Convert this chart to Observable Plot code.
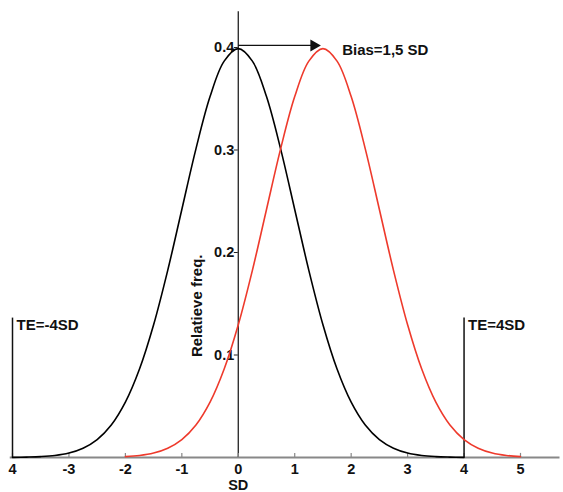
<!DOCTYPE html>
<html><head><meta charset="utf-8">
<script src="https://cdn.jsdelivr.net/npm/d3@7"></script>
<script src="https://cdn.jsdelivr.net/npm/@observablehq/plot@0.6"></script>
<style>
html,body{margin:0;padding:0;background:#fff;}
svg{font-family:"Liberation Sans",Arial,sans-serif;font-weight:bold;}
</style>
</head><body>
<div id="chart"></div>
<script>
// Black curve (mean 0)
const blackX = [-4,-3.75,-3.5,-3.25,-3,-2.75,-2.5,-2.25,-2,-1.75,-1.5,-1.25,-1,-0.75,-0.5,-0.25,0,0.25,0.5,0.75,1,1.25,1.5,1.75,2,2.25,2.5,2.75,3,3.25,3.5,3.75,4];
const blackY = [0.0001,0.0004,0.0009,0.0020,0.0044,0.0091,0.0175,0.0317,0.0540,0.0863,0.1295,0.1826,0.2420,0.3011,0.3521,0.3867,0.3989,0.3867,0.3521,0.3011,0.2420,0.1826,0.1295,0.0863,0.0540,0.0317,0.0175,0.0091,0.0044,0.0020,0.0009,0.0004,0.0001];
// Red curve (mean 1.5)
const redX = [-2,-1.75,-1.5,-1.25,-1,-0.75,-0.5,-0.25,0,0.25,0.5,0.75,1,1.25,1.5,1.75,2,2.25,2.5,2.75,3,3.25,3.5,3.75,4,4.25,4.5,4.75,5];
const redY = [0.0009,0.0020,0.0044,0.0091,0.0175,0.0317,0.0540,0.0863,0.1295,0.1826,0.2420,0.3011,0.3521,0.3867,0.3989,0.3867,0.3521,0.3011,0.2420,0.1826,0.1295,0.0863,0.0540,0.0317,0.0175,0.0091,0.0044,0.0020,0.0009];
// Axes
const xTicks = [-4,-3,-2,-1,0,1,2,3,4,5];
const xTickLabels = ["4","-3","-2","-1","0","1","2","3","4","5"];
const yTicks = [0.1,0.2,0.3,0.4];
const yTickLabels = ["0.1","0.2","0.3","0.4"];
// Annotations
const teX = [-4,4];
const teLabels = ["TE=-4SD","TE=4SD"];
const biasFrom = 0, biasTo = 1.41, biasLevel = 0.402;
const biasLabel = "Bias=1,5 SD";

const black = blackX.map((x,i)=>({x, y: blackY[i]}));
const red = redX.map((x,i)=>({x, y: redY[i]}));
const xt = xTicks.map((x,i)=>({x, label: xTickLabels[i]}));
const yt = yTicks.map((y,i)=>({y, label: yTickLabels[i]}));
const te = teX.map((x,i)=>({x, label: teLabels[i]}));

const chart = Plot.plot({
  width: 563, height: 492,
  marginLeft: 12, marginRight: 43, marginTop: 6, marginBottom: 35,
  x: {domain: [-4, 5], axis: null},
  y: {domain: [0, 0.44], axis: null},
  style: {fontFamily: "'Liberation Sans', Arial, sans-serif", fontWeight: "bold", background: "#fff"},
  marks: [
    Plot.ruleY([0], {x1: -4.04, x2: 5.7, stroke: "#888", strokeWidth: 2}),
    Plot.ruleX([0], {y1: 0, y2: 0.435, stroke: "#222", strokeWidth: 1.3}),
    Plot.ruleX(xt, {x: "x", y1: 0, y2: 0.004, stroke: "#888", strokeWidth: 1.2}),
    Plot.ruleY(yt, {y: "y", x1: -0.07, x2: 0, stroke: "#222", strokeWidth: 1}),
    Plot.text(xt, {x: "x", y: 0, text: "label", dy: 12, fontSize: 14.5, fill: "#111"}),
    Plot.text(yt, {x: 0, y: "y", text: "label", dx: -4, textAnchor: "end", fontSize: 14.5, fill: "#111"}),
    Plot.text(["SD"], {x: 0, y: 0, text: d => d, dy: 28, fontSize: 14.5, fill: "#111"}),
    Plot.text(["Relatieve freq."], {x: -0.73, y: 0.148, text: d => d, rotate: -90, fontSize: 15, fill: "#111"}),
    Plot.ruleX(te, {x: "x", y1: 0, y2: 0.136, stroke: "#111", strokeWidth: 1.5}),
    Plot.text(te, {x: "x", y: 0.136, text: "label", dx: 4, dy: 1, textAnchor: "start", lineAnchor: "top", fontSize: 15, fill: "#111"}),
    Plot.line(black, {x: "x", y: "y", stroke: "#000", strokeWidth: 1.6, curve: "catmull-rom"}),
    Plot.line(red, {x: "x", y: "y", stroke: "#ee3a2c", strokeWidth: 1.6, curve: "catmull-rom"}),
    Plot.link([{a: biasFrom, b: biasTo - 0.12}], {x1: "a", x2: "b", y1: biasLevel, y2: biasLevel, stroke: "#111", strokeWidth: 1.3}),
    Plot.dot([{a: biasTo}], {x: "a", y: biasLevel, symbol: "triangle", r: 4.5, rotate: 90, fill: "#111", stroke: "none", dx: -4}),
    Plot.text([biasLabel], {x: 1.84, y: 0.397, text: d => d, textAnchor: "start", fontSize: 15, fill: "#111"})
  ]
});
document.getElementById("chart").appendChild(chart);
</script>
</body></html>
